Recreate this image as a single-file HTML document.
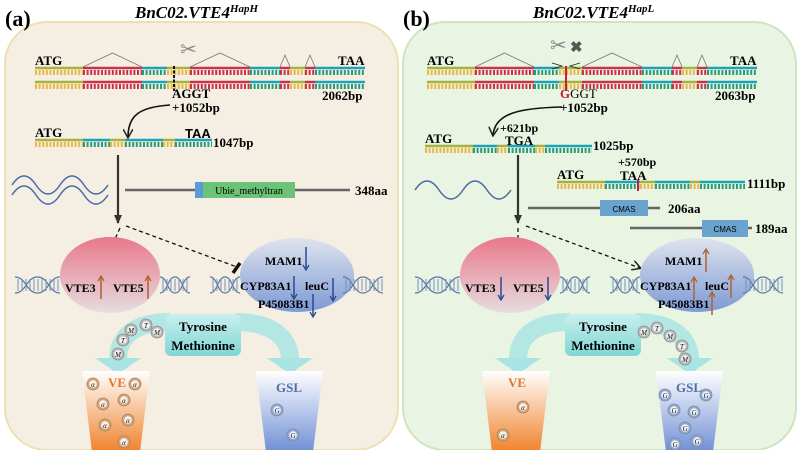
<!DOCTYPE html>
<html><head><meta charset="utf-8"><style>
html,body{margin:0;padding:0;background:#fff;width:800px;height:450px;overflow:hidden;}
svg{display:block;font-family:"Liberation Serif",serif;}
.b{font-weight:bold;}
</style></head><body>
<svg id="s" width="800" height="450" viewBox="0 0 800 450" xmlns="http://www.w3.org/2000/svg">
<defs>
<linearGradient id="pk" x1="0" y1="0" x2="0" y2="1"><stop offset="0" stop-color="#e8788a"/><stop offset="1" stop-color="#e6dde0"/></linearGradient>
<linearGradient id="bl" x1="0" y1="0" x2="0" y2="1"><stop offset="0" stop-color="#dfe3ee"/><stop offset="1" stop-color="#7d9ad4"/></linearGradient>
<linearGradient id="ve" x1="0" y1="0" x2="0" y2="1"><stop offset="0" stop-color="#ffffff"/><stop offset="1" stop-color="#f0822a"/></linearGradient>
<linearGradient id="gs" x1="0" y1="0" x2="0" y2="1"><stop offset="0" stop-color="#ffffff"/><stop offset="1" stop-color="#6f8fd6"/></linearGradient>
<linearGradient id="ty" x1="0" y1="0" x2="0" y2="1"><stop offset="0" stop-color="#c8f0ee"/><stop offset="1" stop-color="#80d6d4"/></linearGradient>
<marker id="ah" markerWidth="10" markerHeight="10" refX="8" refY="5" orient="auto" markerUnits="userSpaceOnUse"><path d="M0,0 L9,5 L0,10" fill="none" stroke="#222" stroke-width="1.5"/></marker>
<marker id="ahf" markerWidth="10" markerHeight="10" refX="8" refY="5" orient="auto" markerUnits="userSpaceOnUse"><path d="M0,1 L9,5 L0,9 Z" fill="#333"/></marker>
</defs>
<rect x="5" y="22" width="393" height="428" rx="42" fill="#f4efe2" stroke="#ede0b2" stroke-width="2"/>
<rect x="403" y="22" width="393" height="428" rx="42" fill="#e9f4e2" stroke="#cfe4c2" stroke-width="2"/>
<text x="5" y="26" font-size="22" class="b">(a)</text>
<text x="403" y="26" font-size="22" class="b">(b)</text>
<text x="135" y="18" font-size="17" class="b" font-style="italic">BnC02.VTE4<tspan font-size="11" dy="-6">HapH</tspan></text>
<text x="533" y="18" font-size="17" class="b" font-style="italic">BnC02.VTE4<tspan font-size="11" dy="-6">HapL</tspan></text>
<g id="g"></g>
</svg>
<script>
var g=document.getElementById('g'),h='';
var C={Y:['#a8b23a','#e8b64a'],T:['#1ba3b8','#2a9a78'],R:['#c8324a','#c8324a']};
function seg(x1,x2,y,t){h+='<line x1="'+x1+'" y1="'+y+'" x2="'+x2+'" y2="'+y+'" stroke="'+C[t][0]+'" stroke-width="2.5"/>';
h+='<line x1="'+x1+'" y1="'+(y+4.5)+'" x2="'+x2+'" y2="'+(y+4.5)+'" stroke="'+C[t][1]+'" stroke-width="5" stroke-dasharray="2 1.6"/>';}
function strand(list,y){for(var i=0;i<list.length;i++)seg(list[i][0],list[i][1],y,list[i][2]);}
function T(x,y,s,sz,ex){h+='<text x="'+x+'" y="'+y+'" font-size="'+(sz||13)+'" '+(ex||'class="b"')+'>'+s+'</text>';}
function gene(o){var L=[[35,83,'Y'],[83,142,'R'],[142,167,'T'],[167,190,'Y'],[190,250,'R'],[250,280,'T'],[280,290,'R'],[290,305,'Y'],[305,315,'R'],[315,365,'T']].map(function(a){return[a[0]+o,a[1]+o,a[2]]});
strand(L,68);strand(L,82);
var hats=[[83,142,53],[190,250,53],[280,290,55],[305,315,55]];
hats.forEach(function(a){h+='<polyline points="'+(a[0]+o)+',67 '+((a[0]+a[1])/2+o)+','+a[2]+' '+(a[1]+o)+',67" fill="none" stroke="#777" stroke-width="0.8"/>';});
T(35+o,65,'ATG');T(338+o,65,'TAA');}
function helix(x,y,w){h+='<path d="M'+x+','+(y-8)+' C'+(x+w/4)+','+(y-8)+' '+(x+w/4)+','+(y+8)+' '+(x+w/2)+','+(y+8)+' C'+(x+3*w/4)+','+(y+8)+' '+(x+3*w/4)+','+(y-8)+' '+(x+w)+','+(y-8)+'" fill="none" stroke="#5878a8" stroke-width="1.2"/>';
h+='<path d="M'+x+','+(y+8)+' C'+(x+w/4)+','+(y+8)+' '+(x+w/4)+','+(y-8)+' '+(x+w/2)+','+(y-8)+' C'+(x+3*w/4)+','+(y-8)+' '+(x+3*w/4)+','+(y+8)+' '+(x+w)+','+(y+8)+'" fill="none" stroke="#5878a8" stroke-width="1.2"/>';
for(var i=3;i<w;i+=4)h+='<line x1="'+(x+i)+'" y1="'+(y-6)+'" x2="'+(x+i)+'" y2="'+(y+6)+'" stroke="#7890b8" stroke-width="1"/>';}
function up(x,y,c){h+='<line x1="'+x+'" y1="'+(y+10)+'" x2="'+x+'" y2="'+(y-12)+'" stroke="'+c+'" stroke-width="1.5"/><path d="M'+(x-3)+','+(y-8)+' L'+x+','+(y-13)+' L'+(x+3)+','+(y-8)+'" fill="none" stroke="'+c+'" stroke-width="1.3"/>';}
function dn(x,y,c){h+='<line x1="'+x+'" y1="'+(y-12)+'" x2="'+x+'" y2="'+(y+10)+'" stroke="'+c+'" stroke-width="1.5"/><path d="M'+(x-3)+','+(y+6)+' L'+x+','+(y+11)+' L'+(x+3)+','+(y+6)+'" fill="none" stroke="'+c+'" stroke-width="1.3"/>';}
function ball(x,y,ch,c){h+='<circle cx="'+x+'" cy="'+y+'" r="6" fill="'+c+'" stroke="#888" stroke-width="0.8"/><circle cx="'+x+'" cy="'+y+'" r="3.8" fill="#f4f4f4"/><text x="'+x+'" y="'+(y+3)+'" font-size="7" text-anchor="middle" font-style="italic">'+ch+'</text>';}
function bottom(o,isA){
h+='<ellipse cx="'+(110+o)+'" cy="275" rx="50" ry="38" fill="url(#pk)"/>';
h+='<ellipse cx="'+(297+o)+'" cy="275" rx="57" ry="37" fill="url(#bl)"/>';
helix(15+o,285,45);helix(160+o,285,30);helix(210+o,285,30);helix(343+o,285,40);
T(65+o,292,'VTE3',12);T(113+o,292,'VTE5',12);
T(265+o,265,'MAM1',12);T(240+o,290,'CYP83A1',12);T(305+o,290,'leuC',12);T(258+o,308,'P45083B1',12);
if(isA){up(101+o,289,'#b06030');up(148+o,289,'#b06030');dn(306+o,259,'#2a4a90');dn(294+o,288,'#2a4a90');dn(333+o,290,'#2a4a90');dn(313+o,306,'#2a4a90');}
else{dn(101+o,289,'#2a4a90');dn(148+o,289,'#2a4a90');up(306+o,262,'#b06030');up(294+o,290,'#b06030');up(331+o,288,'#b06030');up(312+o,305,'#b06030');}
h+='<path d="M'+(170+o)+',322 C'+(130+o)+',322 '+(118+o)+',340 '+(118+o)+',360" fill="none" stroke="#a8e4e4" stroke-width="18" opacity="0.85"/>';
h+='<path d="M'+(95+o)+',358 L'+(141+o)+',358 L'+(118+o)+',374 Z" fill="#a8e4e4"/>';
h+='<path d="M'+(235+o)+',322 C'+(275+o)+',322 '+(290+o)+',340 '+(290+o)+',360" fill="none" stroke="#a8e4e4" stroke-width="18" opacity="0.85"/>';
h+='<path d="M'+(267+o)+',358 L'+(313+o)+',358 L'+(290+o)+',374 Z" fill="#a8e4e4"/>';
h+='<rect x="'+(165+o)+'" y="314" width="76" height="42" rx="6" fill="url(#ty)"/>';
h+='<text x="'+(203+o)+'" y="331" font-size="13" class="b" text-anchor="middle">Tyrosine</text><text x="'+(203+o)+'" y="350" font-size="13" class="b" text-anchor="middle">Methionine</text>';
h+='<path d="M'+(82+o)+',371 L'+(150+o)+',371 L'+(140+o)+',452 L'+(92+o)+',452 Z" fill="url(#ve)"/>';
h+='<path d="M'+(256+o)+',371 L'+(323+o)+',371 L'+(313+o)+',452 L'+(266+o)+',452 Z" fill="url(#gs)"/>';
h+='<text x="'+(108+o)+'" y="387" font-size="13" class="b" fill="#e07828">VE</text>';
h+='<text x="'+(276+o)+'" y="392" font-size="13" class="b" fill="#5070a8">GSL</text>';
}
gene(0);gene(392);
h+='<line x1="174" y1="66" x2="174" y2="91" stroke="#111" stroke-width="2" stroke-dasharray="3 1.5"/>';
h+='<text x="180" y="56" font-size="20" fill="#888">✂</text>';
T(172,98,'AGGT',13,'');T(172,112,'+1052bp');T(322,100,'2062bp');
h+='<path d="M170,105 C140,107 128,115 128,137" fill="none" stroke="#111" stroke-width="1.6" marker-end="url(#ah)"/>';
strand([[35,83,'Y'],[83,110,'T'],[110,125,'Y'],[125,163,'T'],[163,175,'Y'],[175,212,'T']],140);
T(35,137,'ATG');h+='<text x="185" y="138" font-size="13" font-family="Liberation Sans" class="b">TAA</text>';T(213,147,'1047bp');
h+='<path d="M12,185 q12,-18 24,0 t24,0 t24,0 t24,0" fill="none" stroke="#4a6aa8" stroke-width="1.5"/><path d="M12,195 q12,-18 24,0 t24,0 t24,0 t24,0" fill="none" stroke="#4a6aa8" stroke-width="1.5"/>';
h+='<line x1="118" y1="155" x2="118" y2="223" stroke="#333" stroke-width="2.2" marker-end="url(#ahf)"/>';
h+='<line x1="125" y1="190" x2="350" y2="190" stroke="#666" stroke-width="2.5"/><rect x="195" y="182" width="100" height="16" fill="#6cc276"/><rect x="195" y="182" width="8" height="16" fill="#5b9bd5"/><text x="249" y="194" font-size="10" text-anchor="middle">Ubie_methyltran</text>';T(355,195,'348aa');
h+='<line x1="120" y1="228" x2="111" y2="248" stroke="#111" stroke-width="1.3" stroke-dasharray="4 3" marker-end="url(#ah)"/>';
h+='<line x1="126" y1="226" x2="237" y2="267" stroke="#111" stroke-width="1.3" stroke-dasharray="4 3"/><line x1="233" y1="273" x2="240" y2="263" stroke="#111" stroke-width="3.5"/>';
bottom(0,true);
[[118,354,'M'],[123,340,'T'],[131,330,'M'],[146,325,'T'],[157,332,'M']].forEach(function(a){ball(a[0],a[1],a[2],'#bbb');});
[[93,384,'α'],[135,384,'α'],[103,404,'α'],[124,400,'α'],[105,425,'α'],[128,420,'α'],[124,442,'α']].forEach(function(a){ball(a[0],a[1],a[2],'#e8a060');});
[[277,410,'G'],[293,435,'G']].forEach(function(a){ball(a[0],a[1],a[2],'#8aa8dc');});
h+='<line x1="566" y1="66" x2="566" y2="91" stroke="#c82030" stroke-width="2"/>';
h+='<text x="550" y="52" font-size="20" fill="#888">✂</text><text x="570" y="52" font-size="15" fill="#555" class="b">✖</text>';
h+='<path d="M552,63 L562,66 L552,69 M580,63 L570,66 L580,69" fill="none" stroke="#222" stroke-width="0.8"/>';
h+='<text x="560" y="98" font-size="13"><tspan fill="#c82030" font-weight="bold">G</tspan>GGT</text>';T(560,112,'+1052bp');T(715,100,'2063bp');
h+='<path d="M562,107 C520,108 495,113 493,135" fill="none" stroke="#111" stroke-width="1.6" marker-end="url(#ah)"/>';
strand([[425,473,'Y'],[473,497,'T'],[497,508,'Y'],[508,535,'T'],[535,545,'Y'],[545,592,'T']],146);
T(425,143,'ATG');T(500,132,'+621bp',12);T(505,145,'TGA');T(593,150,'1025bp');
strand([[557,605,'Y'],[605,640,'T'],[640,655,'Y'],[655,690,'T'],[690,700,'Y'],[700,745,'T']],182);
h+='<line x1="638" y1="180" x2="638" y2="191" stroke="#c82030" stroke-width="2"/>';
T(557,179,'ATG');T(618,166,'+570bp',12);T(620,180,'TAA');T(747,188,'1111bp');
h+='<path d="M415,190 q12,-18 24,0 t24,0 t24,0 t24,0" fill="none" stroke="#4a6aa8" stroke-width="1.5"/>';
h+='<line x1="518" y1="155" x2="518" y2="223" stroke="#333" stroke-width="2.2" marker-end="url(#ahf)"/>';
h+='<line x1="528" y1="208" x2="660" y2="208" stroke="#666" stroke-width="2.5"/><rect x="600" y="200" width="48" height="16" fill="#6ba3cf"/><text x="624" y="212" font-size="8" text-anchor="middle" font-family="Liberation Sans">CMAS</text>';T(668,213,'206aa');
h+='<line x1="630" y1="228" x2="752" y2="228" stroke="#666" stroke-width="2.5"/><rect x="702" y="220" width="46" height="17" fill="#6ba3cf"/><text x="725" y="232" font-size="8" text-anchor="middle" font-family="Liberation Sans">CMAS</text>';T(755,233,'189aa');
h+='<line x1="518" y1="228" x2="518" y2="247" stroke="#111" stroke-width="1.3" stroke-dasharray="4 3"/><ellipse cx="518" cy="248" rx="6" ry="3" fill="#111"/>';
h+='<line x1="526" y1="226" x2="640" y2="268" stroke="#111" stroke-width="1.3" stroke-dasharray="4 3" marker-end="url(#ah)"/>';
bottom(400,false);
[[644,332,'M'],[657,328,'T'],[670,336,'M'],[682,346,'T'],[685,359,'M']].forEach(function(a){ball(a[0],a[1],a[2],'#bbb');});
[[523,407,'α'],[503,435,'α']].forEach(function(a){ball(a[0],a[1],a[2],'#e8a060');});
[[665,395,'G'],[706,395,'G'],[674,410,'G'],[694,412,'G'],[685,428,'G'],[675,444,'G'],[697,441,'G']].forEach(function(a){ball(a[0],a[1],a[2],'#8aa8dc');});
g.innerHTML=h;
</script>
</body></html>
